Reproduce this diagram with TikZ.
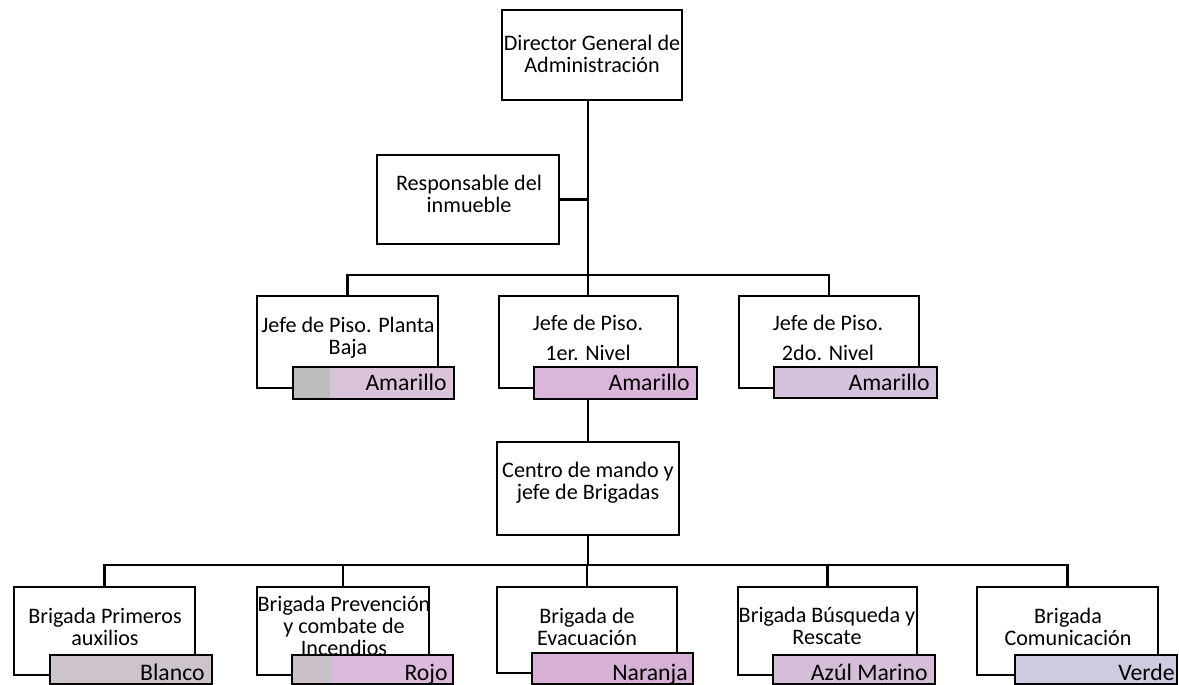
\documentclass[tikz,border=0pt]{standalone}
\usepackage{fontspec}
\setmainfont{Carlito}
\usetikzlibrary{fit}
\definecolor{cgray}{HTML}{BDBDBD}
\definecolor{cgray2}{HTML}{C9C0C8}
\definecolor{cpinkA}{HTML}{DCC3DC}
\definecolor{cpinkB}{HTML}{DAB6DA}
\definecolor{clavA}{HTML}{D5C2DC}
\definecolor{cblanco}{HTML}{CCC3CB}
\definecolor{crojo}{HTML}{DCBADC}
\definecolor{cnaranja}{HTML}{D6B0D5}
\definecolor{cazul}{HTML}{D5BFD8}
\definecolor{cverde}{HTML}{CDCBE0}
\begin{document}
\begin{tikzpicture}[x=0.02cm,y=-0.02cm,
  box/.style={draw, line width=1.4pt, inner sep=0pt, fill=white},
  colbar/.style={draw, line width=1.4pt, inner sep=0pt},
  lbl/.style={font=\fontsize{12.6}{12.5}\selectfont, align=center, inner sep=0pt},
  lblwide/.style={font=\fontsize{12.6}{17}\selectfont, align=center, inner sep=0pt},
  bartxt/.style={font=\fontsize{13.5}{14}\selectfont, anchor=base east, inner sep=0pt},
  conn/.style={line width=1.4pt}]
\useasboundingbox (0,0) rectangle (1179,685);
% boxes
\node[box, fit={(502,10) (682,100)}] (dir) {};
\node[box, fit={(377,155) (559,244)}] (resp) {};
\node[box, fit={(257,296) (438,388)}] (jpb) {};
\node[box, fit={(499,296) (678,388)}] (j1) {};
\node[box, fit={(739,296) (919,388)}] (j2) {};
\node[box, fit={(497,442) (679,535)}] (cen) {};
\node[box, fit={(14,587) (195,675)}] (p1) {};
\node[box, fit={(257,587) (429,675)}] (p2) {};
\node[box, fit={(497,587) (677,673)}] (p3) {};
\node[box, fit={(738,587) (917,675)}] (p4) {};
\node[box, fit={(977,587) (1158,675)}] (p5) {};
% texts
\node[lbl] (tdir) at (592,54) {Director General de\\Administración};
\node[lbl] (tresp) at (469,194) {Responsable del\\inmueble};
\node[lbl] (tjpb) at (348,338) {Jefe de Piso. Planta\\Baja};
\node[lblwide] (tj1) at (588,338) {Jefe de Piso.\\1er. Nivel};
\node[lblwide] (tj2) at (828,338) {Jefe de Piso.\\2do. Nivel};
\node[lbl] (tcen) at (588,483) {Centro de mando y\\jefe de Brigadas};
\node[lbl] (tp1) at (105,627) {Brigada Primeros\\auxilios};
\node[lbl] (tp2) at (344,626) {Brigada Prevención\\y combate de\\Incendios};
\node[lbl] (tp3) at (587,627) {Brigada de\\Evacuación};
\node[lbl] (tp4) at (827,626) {Brigada Búsqueda y\\Rescate};
\node[lbl] (tp5) at (1068,627) {Brigada\\Comunicación};
% colour bars
\node[colbar, fill=cpinkA, fit={(293,367) (454,399)},
  path picture={\fill[cgray] (path picture bounding box.north west) rectangle ([xshift=0.74cm]path picture bounding box.south west);}] (bpb) {};
\node[colbar, fill=cpinkB, fit={(534,367) (697,399)}] (bj1) {};
\node[colbar, fill=clavA, fit={(774,367) (937,398)}] (bj2) {};
\node[colbar, fill=cblanco, fit={(50,655) (212,684)}] (bp1) {};
\node[colbar, fill=crojo, fit={(292,655) (453,684)},
  path picture={\fill[cgray2] (path picture bounding box.north west) rectangle ([xshift=0.8cm]path picture bounding box.south west);}] (bp2) {};
\node[colbar, fill=cnaranja, fit={(532,653) (693,684)}] (bp3) {};
\node[colbar, fill=cazul, fit={(773,655) (935,684)}] (bp4) {};
\node[colbar, fill=cverde, fit={(1015,655) (1177,684)}] (bp5) {};
% bar texts
\node[bartxt] (tbpb) at (447,391) {Amarillo};
\node[bartxt] (tbj1) at (690,391) {Amarillo};
\node[bartxt] (tbj2) at (930,391) {Amarillo};
\node[bartxt] (tbp1) at (205,680) {Blanco};
\node[bartxt] (tbp2) at (448,680) {Rojo};
\node[bartxt] (tbp3) at (688,680) {Naranja};
\node[bartxt] (tbp4) at (928,680) {Azúl Marino};
\node[bartxt] (tbp5) at (1175,680) {Verde};
% connectors
\coordinate (y275) at (0,275);
\coordinate (y565) at (0,565);
\coordinate (h1) at (cen.north |- y275);
\coordinate (h2) at (cen.south |- y565);
\draw[conn] (h1 |- dir.south) -- (h1);
\draw[conn] (resp.east) -- (resp.east -| h1);
\draw[conn] (jpb.north) |- (h1) -| (j2.north);
\draw[conn] (h1) -- (h1 |- j1.north);
\draw[conn] (cen.north |- bj1.south) -- (cen.north);
\draw[conn] (cen.south) -- (h2);
\draw[conn] (p1.north) |- (h2) -| (p5.north);
\draw[conn] (p2.north) -- (p2.north |- h2);
\draw[conn] (p3.north) -- (p3.north |- h2);
\draw[conn] (p4.north) -- (p4.north |- h2);
\end{tikzpicture}
\end{document}
